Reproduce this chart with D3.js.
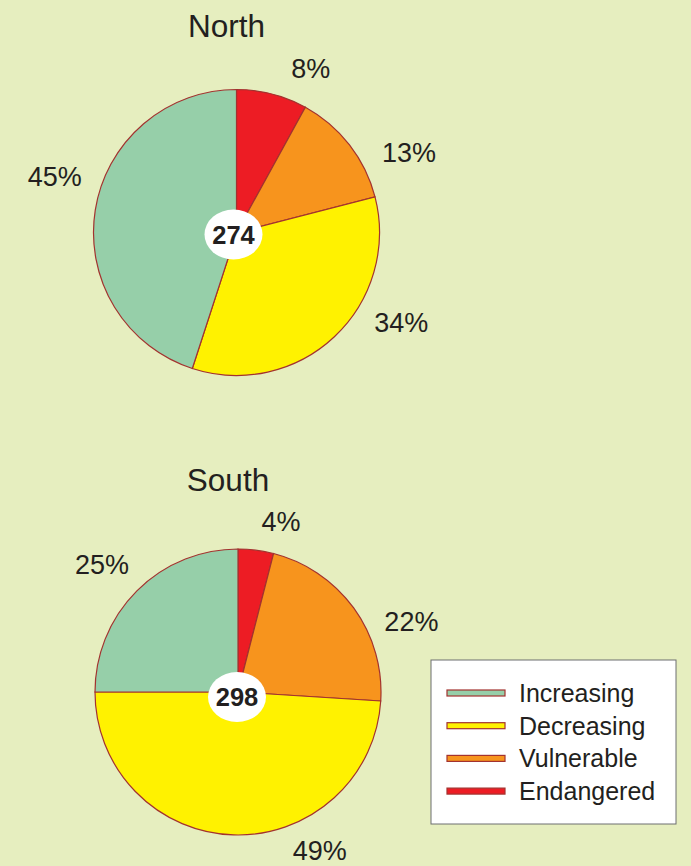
<!DOCTYPE html>
<html>
<head>
<meta charset="utf-8">
<script src="https://cdn.jsdelivr.net/npm/d3@7"></script>
<style>
  html, body { margin: 0; padding: 0; background: #e6eebf; }
  svg { display: block; font-family: "Liberation Sans", Arial, sans-serif; }
</style>
</head>
<body>
<svg id="chart"></svg>
<script>
'use strict'

// categories, clockwise from 12 o'clock
const categories = ["Endangered", "Vulnerable", "Decreasing", "Increasing"];
const legendOrder = ["Increasing", "Decreasing", "Vulnerable", "Endangered"];
const regions = ["North", "South"];
const northShares = [8, 13, 34, 45];
const southShares = [4, 22, 49, 25];
const totals = [274, 298];

const color = d3.scaleOrdinal()
    .domain(categories)
    .range(["#ed1c24", "#f7941d", "#fff200", "#96cfa9"]);

// layout only: label angle nudges (degrees) and radius
const labelNudge = [[10, 13, -18, 8], [7, 14, -29, -2]];
const labelRadius = [[180, 190, 188, 190], [175, 187, 179, 186]];

var width = 691, height = 866;
var svg = d3.select("#chart").attr("width", width).attr("height", height);

var pieGen = d3.pie().sort(null).value(d => d);
var radius = 143;
var arc = d3.arc().innerRadius(0).outerRadius(radius);

var centers = [[236.5, 232.5], [238, 692]];
var titleY = [37, 491];
var totalOffset = [[-3, 2], [-1, 5]];

[northShares, southShares].forEach((shares, i) => {
    var g = svg.append("g")
        .attr("transform", `translate(${centers[i][0]},${centers[i][1]})`);

    var arcs = pieGen(shares);

    g.selectAll("path")
        .data(arcs)
        .enter().append("path")
        .attr("d", arc)
        .attr("fill", (d, j) => color(categories[j]))
        .attr("stroke", "#a3322f")
        .attr("stroke-width", 1.2);

    g.selectAll("text.pct")
        .data(arcs)
        .enter().append("text")
        .attr("class", "pct")
        .attr("text-anchor", "middle")
        .attr("dominant-baseline", "central")
        .attr("font-size", 27)
        .attr("fill", "#231f20")
        .attr("x", (d, j) => {
            var a = (d.startAngle + d.endAngle) / 2 + labelNudge[i][j] * Math.PI / 180;
            return Math.sin(a) * labelRadius[i][j];
        })
        .attr("y", (d, j) => {
            var a = (d.startAngle + d.endAngle) / 2 + labelNudge[i][j] * Math.PI / 180;
            return -Math.cos(a) * labelRadius[i][j];
        })
        .text(d => d.data + "%");

    g.append("ellipse")
        .attr("cx", totalOffset[i][0])
        .attr("cy", totalOffset[i][1])
        .attr("rx", 29)
        .attr("ry", 25)
        .attr("fill", "#ffffff");

    g.append("text")
        .attr("x", totalOffset[i][0])
        .attr("y", totalOffset[i][1])
        .attr("text-anchor", "middle")
        .attr("dominant-baseline", "central")
        .attr("font-size", 25.5)
        .attr("font-weight", "bold")
        .attr("fill", "#231f20")
        .text(totals[i]);

    svg.append("text")
        .attr("x", centers[i][0] - 10)
        .attr("y", titleY[i])
        .attr("text-anchor", "middle")
        .attr("font-size", 31.5)
        .attr("fill", "#231f20")
        .text(regions[i]);
});

// legend
var legend = svg.append("g").attr("transform", "translate(431,660)");
legend.append("rect")
    .attr("width", 245)
    .attr("height", 164)
    .attr("fill", "#ffffff")
    .attr("stroke", "#6d6e71")
    .attr("stroke-width", 1);

var item = legend.selectAll("g.item")
    .data(legendOrder)
    .enter().append("g")
    .attr("class", "item")
    .attr("transform", (d, k) => `translate(0,${33 + k * 32.7})`);

item.append("rect")
    .attr("x", 16)
    .attr("y", -3)
    .attr("width", 58)
    .attr("height", 6)
    .attr("fill", d => color(d))
    .attr("stroke", "#a3322f")
    .attr("stroke-width", 1.2);

item.append("text")
    .attr("x", 88)
    .attr("y", 0)
    .attr("dominant-baseline", "central")
    .attr("font-size", 25)
    .attr("fill", "#231f20")
    .text(d => d);
</script>
</body>
</html>
